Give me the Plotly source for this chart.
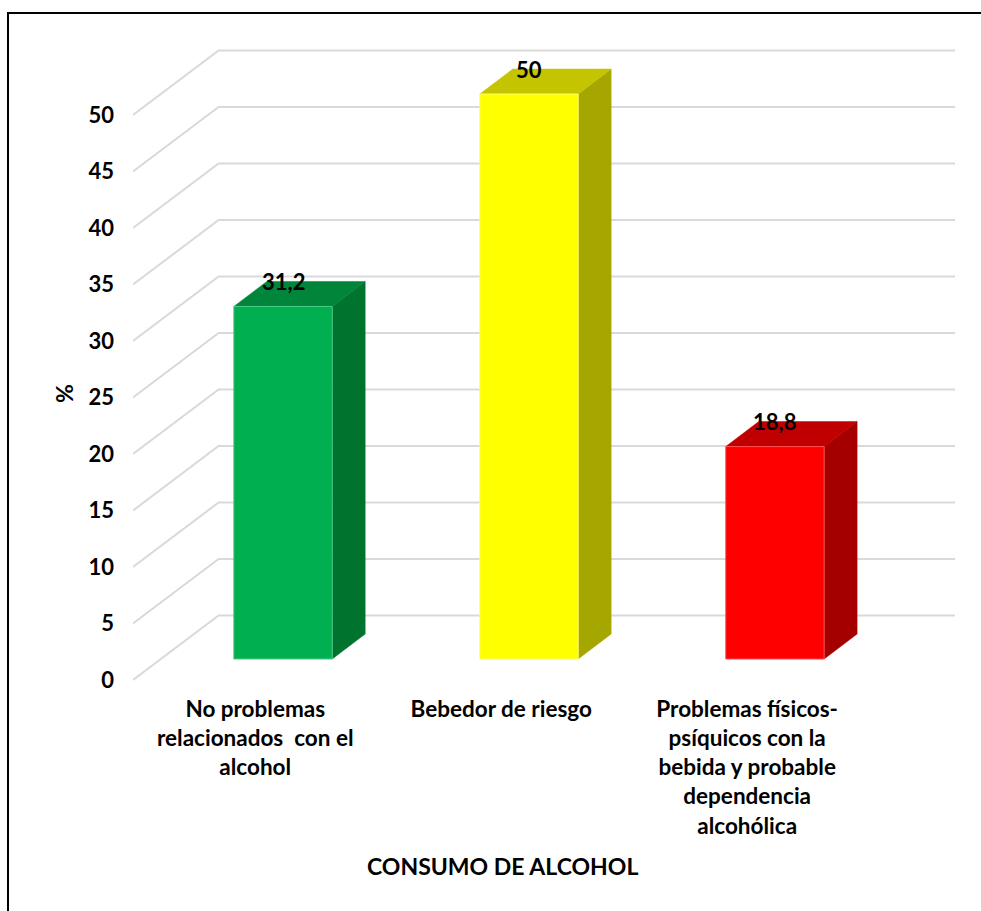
import plotly.graph_objects as go

# ---------------- data ----------------
categories = [
    "No problemas<br>relacionados  con el<br>alcohol",
    "Bebedor de riesgo",
    "Problemas físicos-<br>psíquicos con la<br>bebida y probable<br>dependencia<br>alcohólica",
]
values = [31.2, 50, 18.8]
value_labels = ["31,2", "50", "18,8"]
y_ticks = [0, 5, 10, 15, 20, 25, 30, 35, 40, 45, 50]
y_tick_labels = [str(t) for t in y_ticks]
x_title = "CONSUMO DE ALCOHOL"
y_title = "%"

front_colors = ["#00B050", "#FFFF00", "#FF0000"]
top_colors = ["#00853B", "#C4C400", "#C00000"]
side_colors = ["#00732F", "#A6A600", "#A50000"]
edge_colors = ["#4CC883", "#FFFF66", "#FF5050"]

# ---------------- geometry (axis units) ----------------
W, H = 981, 911
M_L, M_R, M_T, M_B = 133, 26, 40, 221
X_RANGE = [-0.61, 2.732]
Y_RANGE = [-2.743, 54.78]
BAR_W = 0.4
BAR_DX, BAR_DY = 0.134, 2.21          # bar depth
FRONT_DX, FRONT_DY = -0.113, -1.86    # front edge of the walls
BACK_DX, BACK_DY = 0.235, 3.85        # back wall
WALL_X0 = X_RANGE[0]
WALL_X1 = X_RANGE[1]

FONT = "Lato"
GRID = "#D9D9D9"

plot_w = W - M_L - M_R
plot_h = H - M_T - M_B


def px_to_paper(px, py):
    return (px - M_L) / plot_w, 1 - (py - M_T) / plot_h


fig = go.Figure()

# gridlines: left-wall diagonals + back-wall horizontals
gx, gy = [], []
x_back_left = WALL_X0 + (BACK_DX - FRONT_DX)
for t in y_ticks:
    gx += [WALL_X0, x_back_left, WALL_X1, None]
    gy += [t + FRONT_DY, t + BACK_DY, t + BACK_DY, None]
fig.add_trace(go.Scatter(x=gx, y=gy, mode="lines",
                         line=dict(color=GRID, width=2),
                         hoverinfo="skip", showlegend=False))

# 3D bars
for i, v in enumerate(values):
    xl, xr = i - BAR_W / 2, i + BAR_W / 2
    # side face
    fig.add_trace(go.Scatter(
        x=[xr, xr + BAR_DX, xr + BAR_DX, xr, xr],
        y=[0, BAR_DY, v + BAR_DY, v, 0],
        fill="toself", mode="lines", fillcolor=side_colors[i],
        line=dict(color=side_colors[i], width=0.5),
        hoverinfo="skip", showlegend=False))
    # top face
    fig.add_trace(go.Scatter(
        x=[xl, xr, xr + BAR_DX, xl + BAR_DX, xl],
        y=[v, v, v + BAR_DY, v + BAR_DY, v],
        fill="toself", mode="lines", fillcolor=top_colors[i],
        line=dict(color=top_colors[i], width=0.5),
        hoverinfo="skip", showlegend=False))
    # front face
    fig.add_trace(go.Scatter(
        x=[xl, xr, xr, xl, xl],
        y=[0, 0, v, v, 0],
        fill="toself", mode="lines", fillcolor=front_colors[i],
        line=dict(color=edge_colors[i], width=1),
        hoverinfo="skip", showlegend=False))

# data labels
for i, v in enumerate(values):
    fig.add_annotation(x=i, y=v + BAR_DY, text=value_labels[i],
                       showarrow=False, xanchor="center", yanchor="middle",
                       font=dict(family=FONT, size=22, color="black", weight="bold"))

# axis titles
tx, ty = px_to_paper(502, 866)
fig.add_annotation(xref="paper", yref="paper", x=tx, y=ty, text=x_title,
                   showarrow=False, xanchor="center", yanchor="middle",
                   font=dict(family=FONT, size=23, color="black", weight="bold"))
tx, ty = px_to_paper(64, 394)
fig.add_annotation(xref="paper", yref="paper", x=tx, y=ty, text=y_title,
                   showarrow=False, xanchor="center", yanchor="middle", textangle=-90,
                   font=dict(family=FONT, size=23, color="black", weight="bold"))

# outer frame
fx0, fy0 = px_to_paper(8, 13)
fx1, fy1 = px_to_paper(995, 925)
fig.add_shape(type="rect", xref="paper", yref="paper",
              x0=fx0, y0=fy1, x1=fx1, y1=fy0,
              line=dict(color="black", width=2), fillcolor="rgba(0,0,0,0)")

fig.update_layout(
    width=W, height=H,
    margin=dict(l=M_L, r=M_R, t=M_T, b=M_B),
    paper_bgcolor="white", plot_bgcolor="white",
    showlegend=False,
    xaxis=dict(range=X_RANGE, showgrid=False, zeroline=False, showline=False,
               tickmode="array",
               tickvals=[i + FRONT_DX for i in range(len(categories))],
               ticktext=categories, ticks="", ticklabelstandoff=3,
               tickfont=dict(family=FONT, size=22.5, color="black", weight="bold"),
               fixedrange=True),
    yaxis=dict(range=Y_RANGE, showgrid=False, zeroline=False, showline=False,
               tickmode="array",
               tickvals=[t + FRONT_DY for t in y_ticks],
               ticktext=y_tick_labels, ticks="", ticklabelstandoff=18,
               tickfont=dict(family=FONT, size=22, color="black", weight="bold"),
               fixedrange=True),
)

fig.write_html("out.html")
